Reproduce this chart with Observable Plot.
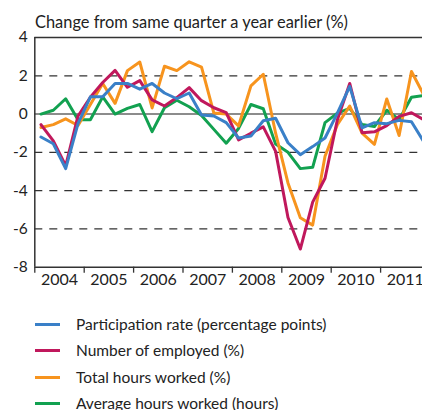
<!DOCTYPE html>
<html><head><meta charset="utf-8">
<script src="https://cdn.jsdelivr.net/npm/d3@7"></script>
<script src="https://cdn.jsdelivr.net/npm/@observablehq/plot@0.6"></script>
<style>
html,body{margin:0;padding:0;background:#fff;overflow:hidden;}
body{width:422px;height:410px;position:relative;font-family:Lato,"Open Sans",sans-serif;color:#222;}
#title{position:absolute;left:35px;top:12px;font-size:16.4px;line-height:20px;white-space:nowrap;}
#chart{position:absolute;left:0;top:0;}
.sw{position:absolute;left:35px;width:25px;height:3px;}
.lab{position:absolute;left:76px;font-size:15.5px;line-height:20px;white-space:nowrap;}
</style></head>
<body>
<div id="chart"></div>
<div id="title">Change from same quarter a year earlier (%)</div>
<div id="legend"></div>
<script>
// Quarterly data, 2004Q1 .. 2011Q4
const years = ["2004","2005","2006","2007","2008","2009","2010","2011"];
const yTicks = [-8,-6,-4,-2,0,2,4];
const seriesNames = ["Participation rate (percentage points)","Number of employed (%)","Total hours worked (%)","Average hours worked (hours)"];
const seriesColors = ["#3a80c8","#c0185c","#f7941e","#12a150"];

const participation = [-1.2,-1.55,-2.85,-0.5, 0.9,0.9,1.6,1.6, 1.3,1.6,1.1,0.8, 1.1,-0.05,-0.1,-0.45, -1.25,-1.15,-0.35,-0.22, -1.5,-2.12,-1.7,-1.25, 0.05,1.45,-0.72,-0.45, -0.5,-0.33,-0.4,-1.45];
const employed = [-0.55,-1.4,-2.7,-0.1, 0.88,1.65,2.28,1.4, 1.75,0.74,0.42,0.86, 1.38,0.7,0.33,0.08, -1.35,-1.0,-0.67,-1.95, -5.4,-7.05,-4.6,-3.35, -0.3,1.6,-0.97,-0.93, -0.6,-0.12,0.07,-0.3];
const totalHours = [-0.7,-0.55,-0.25,-0.6, 0.5,1.6,0.56,2.27, 2.72,0.32,2.5,2.27, 2.73,2.45,0.05,0.0, -0.62,1.47,2.08,-1.0, -3.6,-5.42,-5.8,-2.2, -0.55,0.42,-1.0,-1.58, 0.79,-1.12,2.22,1.0];
const avgHours = [0.0,0.2,0.8,-0.3, -0.3,0.9,0.0,0.3, 0.5,-0.92,0.33,0.72, 0.38,-0.07,-0.8,-1.52, -0.75,0.5,0.28,-1.57, -2.0,-2.85,-2.78,-0.45, 0.05,0.3,-0.55,-0.65, 0.2,-0.3,0.88,0.97];

const seriesValues = [participation, employed, totalHours, avgHours];
const rows = [];
// draw order: green, orange, crimson, blue (blue on top)
[3,2,1,0].forEach(s => seriesValues[s].forEach((v,i) => rows.push({s, q: i + 0.5, v})));

const W = 422, H = 295;
const mL = 34.3, mT = 37, mB = 28.3;
const qPx = 12.35;
const xMax = (W - mL) / qPx;

const yearTicks = years.map((y,k) => k*4);
const yearLabelPos = years.map((y,k) => k*4 + 2);

const chart = Plot.plot({
  width: W, height: H,
  marginLeft: mL, marginRight: 0, marginTop: mT, marginBottom: mB,
  style: {fontFamily: "Lato, 'Open Sans', sans-serif", fontSize: "15px", color: "#222", background: "transparent"},
  x: {type: "linear", domain: [0, xMax]},
  y: {domain: [-8, 4]},
  marks: [
    Plot.ruleY([2,-2,-4,-6], {stroke: "#333", strokeWidth: 1.3, strokeDasharray: "8,7"}),
    Plot.ruleY([0], {stroke: "#666", strokeWidth: 1.6}),
    Plot.line(rows, {x: "q", y: "v", z: "s", stroke: d => seriesColors[d.s], strokeWidth: 3, clip: true}),
    Plot.ruleY([4,-8], {stroke: "#333", strokeWidth: 1.5}),
    Plot.ruleX([0], {stroke: "#333", strokeWidth: 1.5}),
    Plot.axisY({ticks: yTicks, tickSize: 0, tickPadding: 7, label: null, fontSize: 15.5, tickFormat: d => String(d)}),
    Plot.axisX({ticks: yearTicks, tickSize: 6, tickFormat: () => "", label: null, stroke: "#333", strokeWidth: 1.3}),
    Plot.axisX({ticks: yearLabelPos, tickSize: 0, tickPadding: 6, tickFormat: (d) => years[(d-2)/4], label: null, fontSize: 16})
  ]
});
document.getElementById("chart").appendChild(chart);

const legend = document.getElementById("legend");
seriesNames.forEach((name, i) => {
  const cy = 324.3 + i*26.4;
  const sw = document.createElement("div");
  sw.className = "sw";
  sw.style.top = (cy - 1.5) + "px";
  sw.style.background = seriesColors[i];
  legend.appendChild(sw);
  const lab = document.createElement("div");
  lab.className = "lab";
  lab.style.top = (cy - 10.5) + "px";
  lab.textContent = name;
  legend.appendChild(lab);
});
</script>
</body></html>
